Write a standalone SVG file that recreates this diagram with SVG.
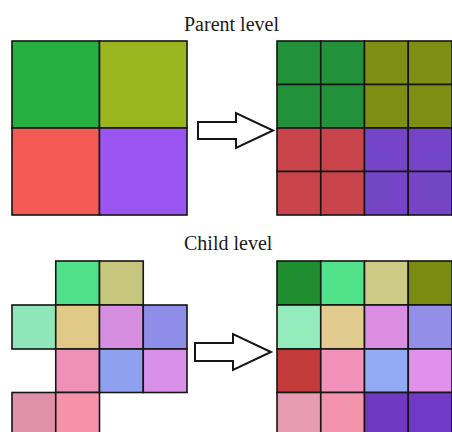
<svg xmlns="http://www.w3.org/2000/svg" width="452" height="432" viewBox="0 0 452 432">
<style>
.c{stroke:#151515;stroke-width:1.6}
.t{font-family:"Liberation Serif","Times New Roman",serif;font-size:20px;fill:#1a1a1a}
.a{fill:#fff;stroke:#151515;stroke-width:2;stroke-linejoin:miter}
</style>
<rect width="452" height="432" fill="#fff"/>
<text class="t" x="184" y="31">Parent level</text>
<text class="t" x="184" y="250">Child level</text>
<g id="parent-source">
<rect class="c" x="12" y="41" width="87.5" height="87" fill="#25b040"/>
<rect class="c" x="99.5" y="41" width="87.5" height="87" fill="#9bb51f"/>
<rect class="c" x="12" y="128" width="87.5" height="87" fill="#f55a55"/>
<rect class="c" x="99.5" y="128" width="87.5" height="87" fill="#9a55f0"/>
</g>
<g id="parent-result">
<rect class="c" x="277" y="41" width="43.75" height="43.5" fill="#23913a"/>
<rect class="c" x="320.75" y="41" width="43.75" height="43.5" fill="#23913a"/>
<rect class="c" x="364.5" y="41" width="43.75" height="43.5" fill="#7f8f14"/>
<rect class="c" x="408.25" y="41" width="43.75" height="43.5" fill="#7f8f14"/>
<rect class="c" x="277" y="84.5" width="43.75" height="43.5" fill="#23913a"/>
<rect class="c" x="320.75" y="84.5" width="43.75" height="43.5" fill="#23913a"/>
<rect class="c" x="364.5" y="84.5" width="43.75" height="43.5" fill="#7f8f14"/>
<rect class="c" x="408.25" y="84.5" width="43.75" height="43.5" fill="#7f8f14"/>
<rect class="c" x="277" y="128" width="43.75" height="43.5" fill="#c8444a"/>
<rect class="c" x="320.75" y="128" width="43.75" height="43.5" fill="#c8444a"/>
<rect class="c" x="364.5" y="128" width="43.75" height="43.5" fill="#7545c8"/>
<rect class="c" x="408.25" y="128" width="43.75" height="43.5" fill="#7545c8"/>
<rect class="c" x="277" y="171.5" width="43.75" height="43.5" fill="#c8444a"/>
<rect class="c" x="320.75" y="171.5" width="43.75" height="43.5" fill="#c8444a"/>
<rect class="c" x="364.5" y="171.5" width="43.75" height="43.5" fill="#7545c8"/>
<rect class="c" x="408.25" y="171.5" width="43.75" height="43.5" fill="#7545c8"/>
</g>
<g id="child-source">
<rect class="c" x="55.75" y="261" width="43.75" height="44" fill="#4fe089"/>
<rect class="c" x="99.5" y="261" width="43.75" height="44" fill="#c6c77c"/>
<rect class="c" x="12" y="305" width="43.75" height="44" fill="#8fe6b9"/>
<rect class="c" x="55.75" y="305" width="43.75" height="44" fill="#e1c987"/>
<rect class="c" x="99.5" y="305" width="43.75" height="44" fill="#d68ee0"/>
<rect class="c" x="143.25" y="305" width="43.75" height="44" fill="#8e8ee8"/>
<rect class="c" x="55.75" y="349" width="43.75" height="43.5" fill="#ee90b8"/>
<rect class="c" x="99.5" y="349" width="43.75" height="43.5" fill="#8fa0f0"/>
<rect class="c" x="143.25" y="349" width="43.75" height="43.5" fill="#d890e8"/>
<rect class="c" x="12" y="392.5" width="43.75" height="44" fill="#de91a9"/>
<rect class="c" x="55.75" y="392.5" width="43.75" height="44" fill="#f592aa"/>
</g>
<g id="child-result">
<rect class="c" x="277" y="261" width="43.75" height="44" fill="#208d30"/>
<rect class="c" x="320.75" y="261" width="43.75" height="44" fill="#52e38a"/>
<rect class="c" x="364.5" y="261" width="43.75" height="44" fill="#cccb86"/>
<rect class="c" x="408.25" y="261" width="43.75" height="44" fill="#7a8b10"/>
<rect class="c" x="277" y="305" width="43.75" height="44" fill="#94ecbd"/>
<rect class="c" x="320.75" y="305" width="43.75" height="44" fill="#e2cb8f"/>
<rect class="c" x="364.5" y="305" width="43.75" height="44" fill="#da8ee2"/>
<rect class="c" x="408.25" y="305" width="43.75" height="44" fill="#938fe8"/>
<rect class="c" x="277" y="349" width="43.75" height="43.5" fill="#c23a3a"/>
<rect class="c" x="320.75" y="349" width="43.75" height="43.5" fill="#f292ba"/>
<rect class="c" x="364.5" y="349" width="43.75" height="43.5" fill="#93aaf5"/>
<rect class="c" x="408.25" y="349" width="43.75" height="43.5" fill="#e092ea"/>
<rect class="c" x="277" y="392.5" width="43.75" height="44" fill="#e79cb4"/>
<rect class="c" x="320.75" y="392.5" width="43.75" height="44" fill="#f493ac"/>
<rect class="c" x="364.5" y="392.5" width="43.75" height="44" fill="#7039c2"/>
<rect class="c" x="408.25" y="392.5" width="43.75" height="44" fill="#7039c6"/>
</g>
<g id="connectors">
<path class="a" d="M198,122 L236,122 L236,113 L273,130.5 L236,148 L236,139 L198,139 Z"/>
<path class="a" d="M195,343 L233,343 L233,334 L271,352 L233,370 L233,361 L195,361 Z"/>
</g>
</svg>
